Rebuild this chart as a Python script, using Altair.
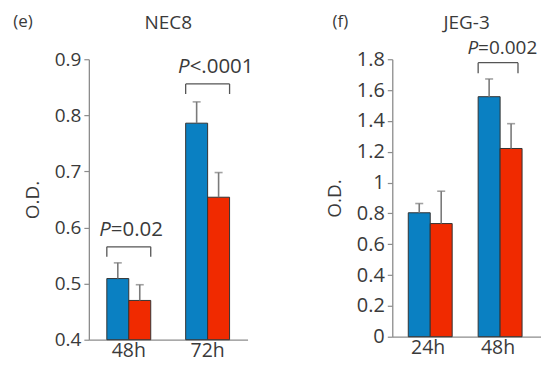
import altair as alt
import pandas as pd

# ---------- Panel (e) NEC8 ----------
e_times = ["48h", "72h"]
e_ctrl = [0.509, 0.786]
e_ctrl_top = [0.537, 0.824]
e_trt = [0.470, 0.654]
e_trt_top = [0.498, 0.698]
e_br_time = ["48h", "72h"]
e_br_top = [0.5655, 0.856]
e_br_leg = [0.548, 0.838]
e_br_text = ["=0.02", "<.0001"]
e_ticks = [0.4, 0.5, 0.6, 0.7, 0.8, 0.9]

# ---------- Panel (f) JEG-3 ----------
f_times = ["24h", "48h"]
f_ctrl = [0.804, 1.557]
f_ctrl_top = [0.864, 1.672]
f_trt = [0.734, 1.221]
f_trt_top = [0.944, 1.382]
f_br_time = ["48h"]
f_br_top = [1.778]
f_br_leg = [1.709]
f_br_text = ["=0.002"]
f_ticks = [0, 0.2, 0.4, 0.6, 0.8, 1.0, 1.2, 1.4, 1.6, 1.8]

groups = ["ctrl", "trt"]
colors = ["#0a80c2", "#f02a00"]

FONT = "Open Sans"
TXT = "#3a3a3a"
AX = "#8c8c8c"


def panel(times, ctrl, ctrl_top, trt, trt_top, br_time, br_top, br_leg, br_text,
          ticks, domain, w, h, pin, pout, align, letter, letter_xy, title, title_y,
          ylab_fs, p_fs, p_dx, p_dy):
    df = pd.DataFrame({
        "time": times + times,
        "grp": [groups[0]] * len(times) + [groups[1]] * len(times),
        "value": ctrl + trt,
        "top": ctrl_top + trt_top,
    })
    br = pd.DataFrame({"time": br_time, "top": br_top, "leg": br_leg,
                       "rest": br_text, "p": ["P"] * len(br_time)})

    xs = alt.Scale(domain=times, paddingInner=pin, paddingOuter=pout, align=align)
    ys = alt.Scale(domain=domain, nice=False, zero=False)
    xo = alt.XOffset("grp:N", scale=alt.Scale(domain=groups, paddingInner=0, paddingOuter=0))
    xax = alt.Axis(title=None, labelAngle=0, ticks=False, labelPadding=2, labelFontSize=19.5)
    yax = alt.Axis(title="O.D.", values=ticks, format=".1~f", tickSize=5,
                   labelPadding=3, titlePadding=12, labelOverlap=False,
                   labelFontSize=ylab_fs, titleFontSize=19)

    base = alt.Chart(df)
    bars = base.mark_bar(stroke="#333333", strokeWidth=1).encode(
        x=alt.X("time:N", scale=xs, axis=xax, sort=times),
        xOffset=xo,
        y=alt.Y("value:Q", scale=ys, axis=yax),
        y2=alt.Y2Datum(domain[0]),
        color=alt.Color("grp:N", scale=alt.Scale(domain=groups, range=colors), legend=None),
    )
    err = base.mark_rule(color="#7a7a7a", strokeWidth=1.6).encode(
        x=alt.X("time:N", sort=times), xOffset=xo,
        y=alt.Y("value:Q", axis=yax), y2="top:Q")
    cap = base.mark_tick(color="#7a7a7a", orient="horizontal", size=8, thickness=1.6).encode(
        x=alt.X("time:N", sort=times), xOffset=xo, y=alt.Y("top:Q", axis=yax))

    bb = alt.Chart(br)
    rule_kw = dict(color="#555555", strokeWidth=1.3)
    hline = bb.mark_rule(**rule_kw).encode(
        x=alt.X("time:N", bandPosition=0), x2=alt.X2("time", bandPosition=1),
        y=alt.Y("top:Q", axis=yax))
    legl = bb.mark_rule(**rule_kw).encode(
        x=alt.X("time:N", bandPosition=0), y=alt.Y("leg:Q", axis=yax), y2="top:Q")
    legr = bb.mark_rule(**rule_kw).encode(
        x=alt.X("time:N", bandPosition=1), y=alt.Y("leg:Q", axis=yax), y2="top:Q")
    ptxt = bb.mark_text(font=FONT, fontSize=p_fs, fontStyle="italic", color=TXT,
                        align="right", baseline="alphabetic", dx=p_dx, dy=p_dy).encode(
        x="time:N", y=alt.Y("top:Q", axis=yax), text="p:N")
    rtxt = bb.mark_text(font=FONT, fontSize=p_fs, color=TXT,
                        align="left", baseline="alphabetic", dx=p_dx, dy=p_dy).encode(
        x="time:N", y=alt.Y("top:Q", axis=yax), text="rest:N")

    lt = alt.Chart(pd.DataFrame({"t": [letter]})).mark_text(
        font=FONT, fontSize=17, color=TXT, align="center", baseline="middle").encode(
        x=alt.value(letter_xy[0]), y=alt.value(letter_xy[1]), text="t:N")
    tt = alt.Chart(pd.DataFrame({"t": [title]})).mark_text(
        font=FONT, fontSize=19, color=TXT, align="center", baseline="middle").encode(
        x=alt.value(w / 2), y=alt.value(title_y), text="t:N")

    return alt.layer(bars, err, cap, hline, legl, legr, ptxt, rtxt, lt, tt).properties(
        width=w, height=h)


left = panel(e_times, e_ctrl, e_ctrl_top, e_trt, e_trt_top, e_br_time, e_br_top, e_br_leg,
             e_br_text, e_ticks, [0.4, 0.9], 159, 281, 0.443, 0.228, 0.5,
             "(e)", (-66, -37), "NEC8", -36, 19, 20.5, -18, -11)
right = panel(f_times, f_ctrl, f_ctrl_top, f_trt, f_trt_top, f_br_time, f_br_top, f_br_leg,
              f_br_text, f_ticks, [0, 1.8], 149, 278, 0.43, 0.279, 0.41,
              "(f)", (-52, -37), "JEG-3", -36, 20, 19, -20, -9)

chart = alt.concat(left, right, columns=2, spacing=71).properties(
    padding={"left": 5, "top": 5, "right": 0, "bottom": 3}
).configure_view(
    stroke=None
).configure_axis(
    labelFont=FONT, titleFont=FONT,
    labelColor=TXT, titleColor=TXT, titleFontWeight="normal",
    domainColor=AX, tickColor=AX, domainWidth=1.3, tickWidth=1.2, grid=False,
).configure_axisY(labelOverlap=False)

chart.save("out.html", embed_options={"renderer": "svg", "actions": False})
